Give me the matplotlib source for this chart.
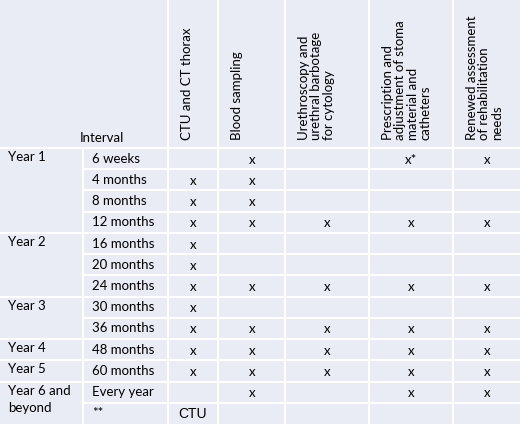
import matplotlib.pyplot as plt
from matplotlib.patches import Rectangle

# --------------------------------------------------
# Table content
# --------------------------------------------------

columns = [
    "CTU and CT thorax",
    "Blood sampling",
    "Urethroscopy and\nurethral barbotage\nfor cytology",
    "Prescription and\nadjustment of stoma\nmaterial and\ncatheters",
    "Renewed assessment\nof rehabilitation\nneeds",
]

intervals = ["6 weeks", "4 months", "8 months", "12 months", "16 months",
             "20 months", "24 months", "30 months", "36 months", "48 months",
             "60 months", "Every year", "**"]

# (label, first row, number of rows)
groups = [("Year 1", 0, 4), ("Year 2", 4, 3), ("Year 3", 7, 2),
          ("Year 4", 9, 1), ("Year 5", 10, 1), ("Year 6 and\nbeyond", 11, 2)]

ctu      = ["", "x", "x", "x", "x", "x", "x", "x", "x", "x", "x", "", "CTU"]
blood    = ["x", "x", "x", "x", "", "", "x", "", "x", "x", "x", "x", ""]
urethro  = ["", "", "", "x", "", "", "x", "", "x", "x", "x", "", ""]
prescr   = ["x*", "", "", "x", "", "", "x", "", "x", "x", "x", "x", ""]
renewed  = ["x", "", "", "x", "", "", "x", "", "x", "x", "x", "x", ""]
marks = [ctu, blood, urethro, prescr, renewed]

# --------------------------------------------------
# Layout (pixels)
# --------------------------------------------------

W, H = 520, 424
col_edges = [168, 218, 285, 369, 453, 520]
mark_x = [193, 252, 327, 411, 487]
header_bottom = 148
row_h = (H - header_bottom) / len(intervals)
bg = "#E9EBF5"
font = ["Lato", "DejaVu Sans"]
fs = 9.5

fig = plt.figure(figsize=(W / 100, H / 100), dpi=100)
ax = fig.add_axes([0, 0, 1, 1])
ax.set_xlim(0, W)
ax.set_ylim(H, 0)
ax.axis("off")
ax.add_patch(Rectangle((0, 0), W, H, color=bg, zorder=0))

# vertical lines
for x in col_edges[:-1]:
    ax.plot([x, x], [0, H], color="white", lw=1.5)
ax.plot([83, 83], [header_bottom, H], color="white", lw=1.5)

# horizontal lines
ax.plot([0, W], [header_bottom, header_bottom], color="white", lw=1.5)
starts = {g[1] for g in groups}
for i in range(1, len(intervals)):
    y = header_bottom + i * row_h
    x0 = 0 if i in starts else 83
    ax.plot([x0, W], [y, y], color="white", lw=1.5)

# header
ax.text(80, 142, "Interval", fontsize=fs, family=font, va="baseline")
for (x0, x1), name in zip(zip(col_edges[:-1], col_edges[1:]), columns):
    ax.text(x0 + 13, 140, name, rotation=90, rotation_mode="anchor",
            ha="left", va="top", fontsize=fs, family=font,
            linespacing=1.05)

# group labels
for label, first, n in groups:
    y = header_bottom + first * row_h + 3
    ax.text(8, y, label, fontsize=fs, family=font, va="top",
            linespacing=1.5)

# rows
for i, name in enumerate(intervals):
    yc = header_bottom + (i + 0.5) * row_h
    ax.text(92, yc, name, fontsize=fs, family=font, va="center")
    for x, col in zip(mark_x, marks):
        if col[i] == "CTU":
            ax.text(x, yc + 1, col[i], fontsize=10, family="Liberation Sans",
                    ha="center", va="center")
        elif col[i]:
            ax.text(x, yc + 1, col[i], fontsize=fs, family=font,
                    ha="center", va="center")

fig.savefig("out.png", dpi=100)
